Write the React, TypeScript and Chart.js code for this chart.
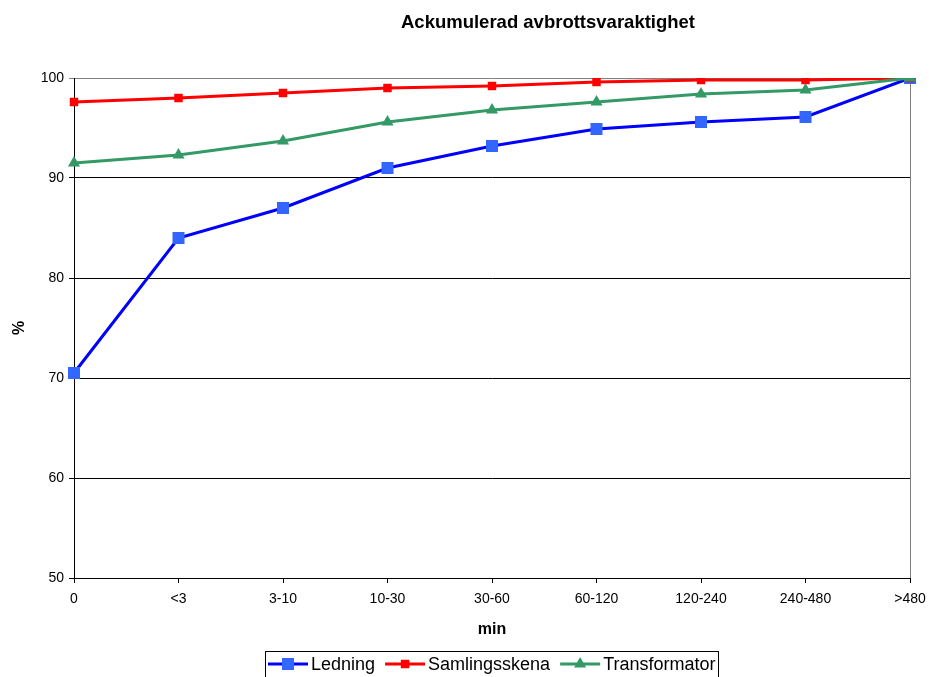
import React, { useEffect, useRef } from "react";
import { Chart, registerables } from "chart.js";

Chart.register(...registerables);

const categories = ["0", "<3", "3-10", "10-30", "30-60", "60-120", "120-240", "240-480", ">480"];
const ledning = [70.5, 84.0, 87.0, 91.0, 93.2, 94.9, 95.6, 96.1, 100];
const samlingsskena = [97.6, 98.0, 98.5, 99.0, 99.2, 99.6, 99.8, 99.8, 100];
const transformator = [91.5, 92.3, 93.7, 95.6, 96.8, 97.6, 98.4, 98.8, 100];
const yMin = 50;
const yMax = 100;
const yStep = 10;
const titleText = "Ackumulerad avbrottsvaraktighet";
const xTitle = "min";
const yTitle = "%";

const FONT = '"Liberation Sans", Arial, Helvetica, sans-serif';

const titlePlugin = {
  id: "customTitle",
  afterDraw(chart: any) {
    const ctx = chart.ctx;
    ctx.save();
    ctx.font = `bold 18.5px ${FONT}`;
    ctx.fillStyle = "#000";
    ctx.textAlign = "center";
    ctx.textBaseline = "alphabetic";
    ctx.fillText(titleText, 548, 28);
    ctx.restore();
  },
};

const framePlugin = {
  id: "frame",
  beforeDatasetsDraw(chart: any) {
    const { ctx, chartArea } = chart;
    ctx.save();
    ctx.strokeStyle = "#808080";
    ctx.lineWidth = 1;
    ctx.beginPath();
    const x = Math.round(chartArea.right) + 0.5;
    ctx.moveTo(x, chartArea.top);
    ctx.lineTo(x, chartArea.bottom);
    ctx.stroke();
    ctx.restore();
  },
};

const legendPlugin = {
  id: "customLegend",
  afterDraw(chart: any) {
    const { ctx, chartArea } = chart;
    const ds = chart.data.datasets;
    ctx.save();
    ctx.font = `18px ${FONT}`;
    const lineW = 40;
    const gapAfterLine = 3;
    const gapItems = 10;
    const pad = 3;
    const widths = ds.map((d: any) => ctx.measureText(d.label).width);
    let total = pad * 2;
    ds.forEach((d: any, i: number) => {
      total += lineW + gapAfterLine + widths[i];
      if (i < ds.length - 1) total += gapItems;
    });
    const cx = (chartArea.left + chartArea.right) / 2;
    const left = Math.round(cx - total / 2);
    const top = 651;
    ctx.strokeStyle = "#000";
    ctx.lineWidth = 1;
    ctx.strokeRect(left + 0.5, top + 0.5, Math.round(total), 30);
    const cy = 664;
    let x = left + pad;
    ds.forEach((d: any, i: number) => {
      ctx.strokeStyle = d.borderColor;
      ctx.lineWidth = 3;
      ctx.beginPath();
      ctx.moveTo(x, cy);
      ctx.lineTo(x + lineW, cy);
      ctx.stroke();
      const px = x + lineW / 2;
      ctx.fillStyle = d.pointBackgroundColor;
      ctx.beginPath();
      if (d.pointStyle === "triangle") {
        const r = d.pointRadius;
        ctx.moveTo(px, cy - r);
        ctx.lineTo(px + r * 0.866, cy + r * 0.5);
        ctx.lineTo(px - r * 0.866, cy + r * 0.5);
        ctx.closePath();
      } else {
        const s = d.pointRadius * Math.SQRT1_2;
        ctx.rect(px - s, cy - s, 2 * s, 2 * s);
      }
      ctx.fill();
      x += lineW + gapAfterLine;
      ctx.fillStyle = "#000";
      ctx.textAlign = "left";
      ctx.textBaseline = "middle";
      ctx.fillText(d.label, x, cy + 1);
      x += widths[i] + gapItems;
    });
    ctx.restore();
  },
};

export default function App() {
  const canvasRef = useRef<HTMLCanvasElement | null>(null);

  useEffect(() => {
    document.body.style.margin = "0";
    const canvas = canvasRef.current;
    if (!canvas) return;
    const chart = new Chart(canvas, {
      type: "line",
      data: {
        labels: categories,
        datasets: [
          {
            label: "Ledning",
            data: ledning,
            borderColor: "#0000FF",
            borderWidth: 3,
            pointStyle: "rect",
            pointRadius: 8.5,
            pointBackgroundColor: "#3366FF",
            pointBorderColor: "#3366FF",
            pointBorderWidth: 0,
            order: 3,
            tension: 0,
          },
          {
            label: "Samlingsskena",
            data: samlingsskena,
            borderColor: "#FF0000",
            borderWidth: 3,
            pointStyle: "rect",
            pointRadius: 6,
            pointBackgroundColor: "#FF0000",
            pointBorderColor: "#FF0000",
            pointBorderWidth: 0,
            order: 2,
            tension: 0,
          },
          {
            label: "Transformator",
            data: transformator,
            borderColor: "#339966",
            borderWidth: 3,
            pointStyle: "triangle",
            pointRadius: 7,
            pointBackgroundColor: "#339966",
            pointBorderColor: "#339966",
            pointBorderWidth: 0,
            order: 1,
            tension: 0,
          },
        ],
      },
      options: {
        responsive: false,
        animation: false,
        devicePixelRatio: 1,
        layout: { padding: { top: 78, right: 19, bottom: 38, left: 0 } },
        plugins: {
          legend: { display: false },
          title: { display: false },
          tooltip: { enabled: false },
        },
        scales: {
          x: {
            offset: false,
            grid: {
              display: true,
              drawOnChartArea: false,
              drawTicks: true,
              tickLength: 5,
              color: "#000",
            },
            border: { display: true, color: "#000", width: 1 },
            ticks: {
              color: "#000",
              font: { family: FONT, size: 14 },
              padding: 8,
              maxRotation: 0,
              autoSkip: false,
            },
            title: {
              display: true,
              text: xTitle,
              color: "#000",
              font: { family: FONT, size: 16, weight: "bold" },
              padding: { top: 4, bottom: 0 },
            },
            afterFit: (scale: any) => {
              scale.paddingRight = 0;
              scale.paddingLeft = 0;
            },
          },
          y: {
            min: yMin,
            max: yMax,
            grid: {
              display: true,
              drawTicks: true,
              tickLength: 5,
              color: (c: any) => (c.tick && c.tick.value === yMax ? "#808080" : "#000"),
            },
            border: { display: true, color: "#000", width: 1 },
            ticks: {
              stepSize: yStep,
              color: "#000",
              font: { family: FONT, size: 14 },
              padding: 5,
            },
            title: {
              display: true,
              text: yTitle,
              color: "#000",
              font: { family: FONT, size: 16, weight: "bold" },
              padding: { top: 10, bottom: 0 },
            },
            afterFit: (scale: any) => {
              scale.width = 74;
            },
          },
        },
      },
      plugins: [titlePlugin, framePlugin, legendPlugin],
    });
    return () => chart.destroy();
  }, []);

  return (
    <div style={{ width: 929, height: 677, background: "#fff" }}>
      <canvas ref={canvasRef} width={929} height={677} style={{ display: "block" }} />
    </div>
  );
}
